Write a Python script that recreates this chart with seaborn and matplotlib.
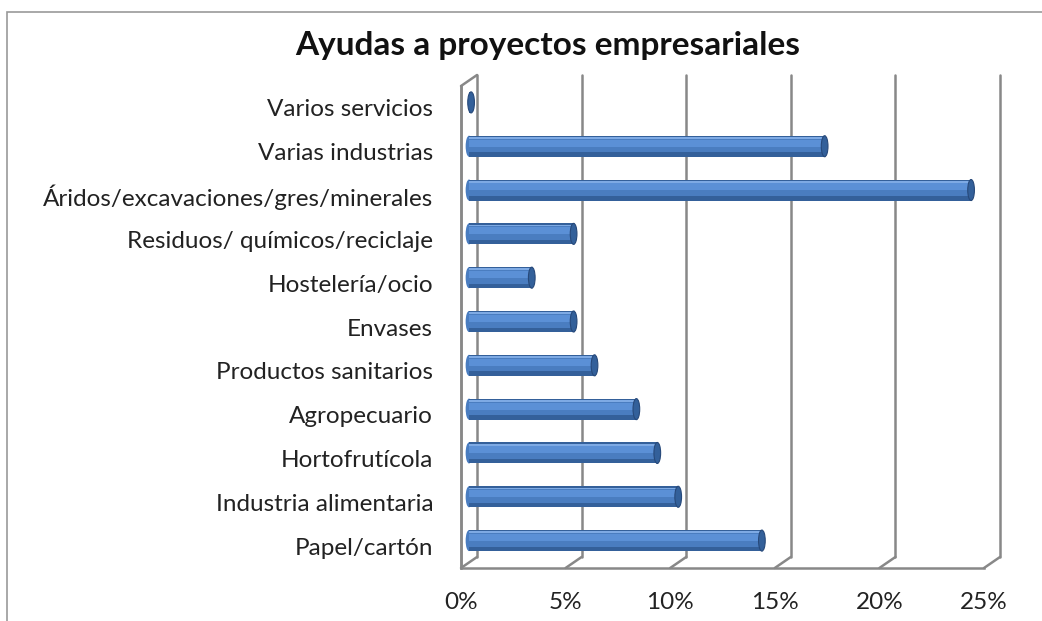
import matplotlib
matplotlib.use("Agg")
import matplotlib.pyplot as plt
import seaborn as sns
from matplotlib.patches import Ellipse, Rectangle
import matplotlib.transforms as mtransforms

# datos (de arriba a abajo)
sectores = ["Varios servicios", "Varias industrias", "Áridos/excavaciones/gres/minerales",
            "Residuos/ químicos/reciclaje", "Hostelería/ocio", "Envases",
            "Productos sanitarios", "Agropecuario", "Hortofrutícola",
            "Industria alimentaria", "Papel/cartón"]
porcentajes = [0.1, 17, 24, 5, 3, 5, 6, 8, 9, 10, 14]
ticks_x = [0, 5, 10, 15, 20, 25]
etiquetas_x = ["0%", "5%", "10%", "15%", "20%", "25%"]

sns.set_style("white")
plt.rcParams["font.family"] = ["Lato", "DejaVu Sans"]

fig = plt.figure(figsize=(10.42, 6.21), dpi=100)
ax = fig.add_axes([461 / 1042, 1 - 568 / 621, 523 / 1042, 482 / 621])

gris = "#888888"
n = len(sectores)

# profundidad 3d en unidades de datos
px_x = 523 / 25
px_y = 482 / n
dx_fondo, dy_fondo = 16 / px_x, -11 / px_y

# pared del fondo: lineas de rejilla
for t in ticks_x:
    ax.plot([t + dx_fondo, t + dx_fondo], [n - 0.5 + dy_fondo, -0.5 + dy_fondo],
            color=gris, lw=1.8, clip_on=False, zorder=1)
    ax.plot([t, t + dx_fondo], [n - 0.5, n - 0.5 + dy_fondo],
            color=gris, lw=1.8, clip_on=False, zorder=1)
# pared izquierda
ax.plot([0, 0], [n - 0.5, -0.5], color=gris, lw=1.8, clip_on=False, zorder=1)
ax.plot([0, dx_fondo], [-0.5, -0.5 + dy_fondo], color=gris, lw=1.8, clip_on=False, zorder=1)

# barras cilindricas
sns.barplot(x=porcentajes, y=sectores, orient="h", color="#34609a",
            width=0.48, saturation=1, ax=ax, zorder=3, linewidth=0)
shift = mtransforms.offset_copy(ax.transData, fig=fig, x=8, y=5.5, units="dots")
for p in ax.patches:
    p.set_transform(shift)
    p.set_edgecolor("none")
pos = list(range(n))
ax.barh([p_ - 0.03 for p_ in pos], porcentajes, height=0.34, color="#4a7dc0",
        linewidth=0, transform=shift, zorder=4)
ax.barh([p_ - 0.07 for p_ in pos], porcentajes, height=0.16, color="#5b90d6",
        linewidth=0, transform=shift, zorder=5)
ax.barh([p_ - 0.19 for p_ in pos], porcentajes, height=0.04, color="#7eaae4",
        linewidth=0, transform=shift, zorder=5)
for i, v in enumerate(porcentajes):
    ax.add_patch(Ellipse((v, i), 0.32, 0.48, facecolor="#33609a", edgecolor="#27497a",
                         lw=0.8, transform=shift, zorder=6))
    if v > 0.5:
        ax.add_patch(Ellipse((0, i), 0.32, 0.48, facecolor="#4a7dc0", edgecolor="none",
                             transform=shift, zorder=2.5))

ax.set_xlim(0, 25)
ax.set_ylim(n - 0.5, -0.5)
ax.set_xticks(ticks_x)
ax.set_xticklabels(etiquetas_x, fontsize=17.5, color="#222222")
ax.set_yticks(pos)
ax.set_yticklabels(sectores, fontsize=17.5, color="#222222")
ax.set_yticks([k - 0.5 for k in range(n + 1)], minor=True)
ax.tick_params(axis="y", which="major", length=0, pad=20)
ax.tick_params(axis="y", which="minor", length=4.5, width=1.3, color=gris)
ax.tick_params(axis="x", which="major", length=4, width=1.3, color=gris, pad=13)
ax.set_xlabel("")
ax.set_ylabel("")
for s in ["top", "right"]:
    ax.spines[s].set_visible(False)
for s in ["left", "bottom"]:
    ax.spines[s].set_color(gris)
    ax.spines[s].set_linewidth(1.8)
ax.patch.set_alpha(0)

fig.text(0.526, 1 - 45 / 621, "Ayudas a proyectos empresariales", ha="center", va="center",
         fontsize=24, fontweight="bold", color="#111111")

# marco del grafico
fig.add_artist(Rectangle((7 / 1042, -0.1), 1.2, 1 - 12 / 621 + 0.1, transform=fig.transFigure,
                         fill=False, edgecolor="#999999", lw=1.2))

fig.savefig("out.png", dpi=100)
